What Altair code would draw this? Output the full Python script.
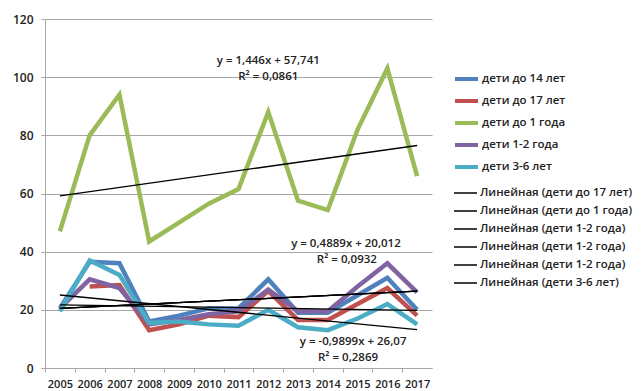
import altair as alt
import pandas as pd

years = list(range(2005, 2018))

series_names = ["дети до 14 лет", "дети до 17 лет", "дети до 1 года", "дети 1-2 года", "дети 3-6 лет"]
series_colors = ["#4F81BD", "#C0504D", "#9BBB59", "#8064A2", "#4BACC6"]

v_14 = [20.5, 36.5, 36, 16, 18, 20.5, 20.5, 30.5, 19, 19, 25, 31, 20]
v_17 = [None, 28, 28.5, 13, 15, 18, 17.5, 26.5, 16.5, 16.5, 22, 27.5, 18]
v_1 = [47, 80, 94, 43.5, 50, 56.5, 61.5, 88, 57.5, 54.3, 82, 103, 66]
v_12 = [20.5, 30.5, 27.5, 15, 16.5, 18.5, 19.5, 27, 19.5, 19.5, 28, 36, 26]
v_36 = [19.5, 37, 32, 15.5, 16, 15, 14.5, 20, 14, 13, 17, 22, 15]

trend_names = [
    "Линейная (дети до 17 лет)",
    "Линейная (дети до 1 года)",
    "Линейная (дети 1-2 года)",
    "Линейная (дети 1-2 года)\u200b",
    "Линейная (дети 1-2 года)\u200b\u200b",
    "Линейная (дети 3-6 лет)",
]
trend_start = [21.7, 59.2, 20.5, 20.5, 20.5, 25.1]
trend_end = [19.8, 76.5, 26.4, 26.4, 26.4, 13.2]

ann_text = ["y = 1,446x + 57,741", "R² = 0,0861",
            "y = 0,4889x + 20,012", "R² = 0,0932",
            "y = -0,9899x + 26,07", "R² = 0,2869"]
ann_x = [2012.0, 2012.0, 2014.61, 2014.64, 2014.85, 2014.68]
ann_y = [105.6, 100.0, 42.6, 37.1, 8.9, 3.6]

y_ticks = [0, 20, 40, 60, 80, 100, 120]

rows = []
for name, vals in zip(series_names, [v_14, v_17, v_1, v_12, v_36]):
    for yr, v in zip(years, vals):
        if v is not None:
            rows.append({"year": yr, "value": v, "series": name})
df = pd.DataFrame(rows)

trows = []
for name, s, e in zip(trend_names, trend_start, trend_end):
    trows.append({"year": years[0], "value": s, "trend": name})
    trows.append({"year": years[-1], "value": e, "trend": name})
tdf = pd.DataFrame(trows)

adf = pd.DataFrame({"year": ann_x, "value": ann_y, "text": ann_text})

FONT = "Open Sans"
GRID = "#A6A6A6"
HALF_STEP = 387 / 13 / 2

x_enc = alt.X(
    "year:Q",
    scale=alt.Scale(domain=[years[0] - 0.5, years[-1] + 0.5], nice=False, zero=False),
    axis=alt.Axis(
        values=years,
        format="d",
        tickOffset=-HALF_STEP,
        labelOffset=HALF_STEP,
        grid=False,
        tickSize=4,
        labelPadding=6,
        labelOverlap=False,
        labelBound=False,
        labelFlush=False,
        title=None,
        domainColor=GRID,
        tickColor=GRID,
        labelFont=FONT,
        labelFontSize=11,
        labelFontWeight=600,
        labelColor="#222222",
    ),
)
y_enc = alt.Y(
    "value:Q",
    scale=alt.Scale(domain=[0, 120], nice=False),
    axis=alt.Axis(
        values=y_ticks,
        grid=True,
        gridColor=GRID,
        tickSize=4,
        labelPadding=8,
        title=None,
        domainColor=GRID,
        tickColor=GRID,
        labelFont=FONT,
        labelFontSize=12,
        labelFontWeight=600,
        labelColor="#222222",
    ),
)

legend_common = dict(
    title=None,
    orient="none",
    symbolType="stroke",
    symbolSize=529,
    labelFont=FONT,
    labelFontSize=11.5,
    labelFontWeight=600,
    labelColor="#222222",
    padding=0,
    rowPadding=0,
    labelOffset=2,
    legendX=408,
)

series_layer = alt.Chart(df).mark_line(strokeWidth=4.5).encode(
    x=x_enc,
    y=y_enc,
    color=alt.Color(
        "series:N",
        scale=alt.Scale(domain=series_names, range=series_colors),
        legend=alt.Legend(legendY=46.5, symbolStrokeWidth=4, **legend_common),
    ),
)

trend_layer = alt.Chart(tdf).mark_line(strokeWidth=1.3).encode(
    x=x_enc,
    y=y_enc,
    color=alt.Color(
        "trend:N",
        scale=alt.Scale(domain=trend_names, range=["#000000"] * len(trend_names)),
        legend=alt.Legend(legendY=161.5, symbolStrokeWidth=1.5, **legend_common),
    ),
)

text_layer = alt.Chart(adf).mark_text(
    font=FONT, fontSize=11.5, fontWeight=600, color="#222222"
).encode(x=x_enc, y=y_enc, text="text:N")

chart = (
    alt.layer(series_layer, trend_layer, text_layer)
    .resolve_scale(color="independent")
    .properties(
        width=387,
        height=349,
        autosize=alt.AutoSizeParams(type="none"),
        padding={"left": 45, "top": 19, "right": 209, "bottom": 23},
        background="white",
    )
    .configure_view(stroke=None)
    .configure_axis(labelOverlap=False)
)

chart.save("out.html", embed_options={"renderer": "svg", "actions": False})
